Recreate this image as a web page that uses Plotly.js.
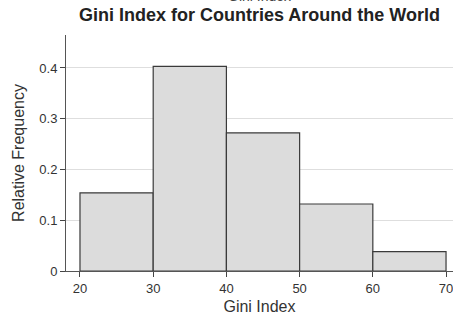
<!DOCTYPE html>
<html>
<head>
<meta charset="utf-8">
<script src="https://cdn.plot.ly/plotly-3.0.1.min.js"></script>
<style>html,body{margin:0;padding:0;background:#fff;overflow:hidden}#chart{width:453px;height:320px}</style>
</head>
<body>
<div id="chart"></div>
<script>
const binStarts = [20, 30, 40, 50, 60];
const binWidth = 10;
const relFreq = [0.154, 0.403, 0.272, 0.132, 0.038];
const xTicks = [20, 30, 40, 50, 60, 70];
const yTicks = [0, 0.1, 0.2, 0.3, 0.4];
const yTickText = ['0', '0.1', '0.2', '0.3', '0.4'];

const font = 'Liberation Sans, Arial, Helvetica, sans-serif';

const trace = {
  type: 'bar',
  x: binStarts,
  y: relFreq,
  width: binStarts.map(() => binWidth),
  offset: 0,
  marker: {color: '#dcdcdc', line: {color: '#3a3a3a', width: 1.2}},
  hoverinfo: 'skip'
};

const layout = {
  width: 453, height: 320,
  margin: {l: 66, r: 0, t: 35, b: 49, pad: 0},
  paper_bgcolor: '#fff', plot_bgcolor: '#fff',
  font: {family: font, color: '#333', size: 13},
  showlegend: false,
  title: {
    text: '<b>Gini Index for Countries Around the World</b>',
    font: {family: font, size: 18, color: '#222'},
    x: 0.5, xref: 'paper', xanchor: 'center',
    y: 0.955, yref: 'container', yanchor: 'middle'
  },
  annotations: [{
    text: 'Gini Index', xref: 'paper', yref: 'paper', x: 0.5, y: 1.121,
    xanchor: 'center', yanchor: 'bottom', showarrow: false,
    font: {family: font, size: 14, color: '#444'}
  }],
  xaxis: {
    range: [18.09, 70.95],
    tickvals: xTicks, ticktext: xTicks.map(String),
    ticklabeloverflow: 'allow',
    showline: true, linecolor: '#555', linewidth: 1,
    ticks: 'outside', ticklen: 5, tickcolor: '#444', tickwidth: 1,
    showgrid: false, zeroline: false,
    tickfont: {size: 13, color: '#333'},
    title: {text: 'Gini Index', font: {size: 16, color: '#333'}, standoff: 6}
  },
  yaxis: {
    range: [0, 0.465],
    tickvals: yTicks, ticktext: yTickText,
    showline: true, linecolor: '#555', linewidth: 1,
    ticks: 'outside', ticklen: 5, tickcolor: '#444', tickwidth: 1,
    showgrid: true, gridcolor: '#dedede', gridwidth: 1,
    zeroline: false,
    tickfont: {size: 13, color: '#333'},
    title: {text: 'Relative Frequency', font: {size: 16, color: '#333'}, standoff: 10}
  }
};

Plotly.newPlot('chart', [trace], layout, {displayModeBar: false, staticPlot: true});
</script>
</body>
</html>
